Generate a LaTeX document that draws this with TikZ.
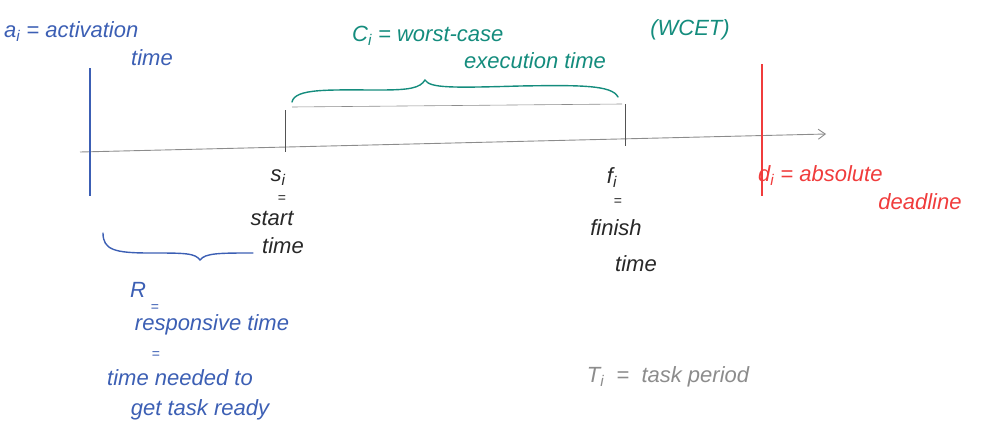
\documentclass[tikz,border=0pt]{standalone}
\usepackage{fontspec}
\setmainfont{Liberation Sans}
\usetikzlibrary{arrows.meta}
\definecolor{hblue}{RGB}{60,95,180}
\definecolor{hteal}{RGB}{20,140,125}
\definecolor{hred}{RGB}{240,60,60}
\definecolor{hgray}{RGB}{140,140,140}
\definecolor{hink}{RGB}{40,40,40}
\newcommand{\sbi}{\textsubscript{i}}
\tikzset{
  hand/.style={inner sep=0pt, font=\fontsize{22}{24}\selectfont\itshape},
  small/.style={font=\fontsize{14}{15}\selectfont},
  bluetxt/.style={hand, text=hblue},
  tealtxt/.style={hand, text=hteal},
  redtxt/.style={hand, text=hred},
  inktxt/.style={hand, text=hink},
  graytxt/.style={hand, text=hgray},
  axisline/.style={draw=hgray, line width=0.9pt},
  tickline/.style={draw=hink!80, line width=0.9pt},
}
\begin{document}
\begin{tikzpicture}[x=1pt,y=-1pt]
\useasboundingbox (0,0) rectangle (994,434);
% axis
\coordinate (axL) at (80,152);
\coordinate (axR) at (826,134);
\draw[axisline, -{Straight Barb[length=7pt,width=10pt]}] (axL) -- (axR);
% activation line (blue)
\coordinate (aTop) at (90,68);
\coordinate (aBot) at (90,196);
\draw[hblue, line width=1.2pt] (aTop) -- (aBot);
% deadline line (red)
\coordinate (dTop) at (762,64);
\coordinate (dBot) at (762,196);
\draw[hred, line width=1.2pt] (dTop) -- (dBot);
% start / finish ticks and bracket
\coordinate (sTop) at (285,110);
\coordinate (sBot) at (285,152);
\coordinate (fTop) at (625,104);
\coordinate (fBot) at (625,146);
\draw[tickline] (sTop) -- (sBot);
\draw[tickline] (fTop) -- (fBot);
\coordinate (bL) at (292,107);
\coordinate (bR) at (622,104);
\draw[hgray, line width=0.6pt] (bL) -- (bR);
% teal brace
\draw[hteal, line width=1.4pt, line cap=round]
  (292,102) .. controls (295,88) and (330,90) .. (380,90)
  .. controls (410,90) and (420,88) .. (425,80)
  .. controls (430,88) and (450,88) .. (520,86)
  .. controls (580,85) and (612,85) .. (618,97);
% blue brace
\draw[hblue, line width=1.4pt, line cap=round]
  (103,233) .. controls (103,250) and (115,253) .. (150,253)
  .. controls (185,253) and (195,253) .. (200,260)
  .. controls (205,253) and (220,253) .. (253,253);
% texts
\node[bluetxt, anchor=west] (atxt) at (4,32) {a\sbi\ = activation};
\node[bluetxt] (atime) at (152,58) {time};
\node[tealtxt, anchor=west] (ctxt) at (352,36) {C\sbi\ = worst-case};
\node[tealtxt] (cexe) at (535,61) {execution time};
\node[tealtxt] (wcet) at (690,30) {(WCET)};
\node[redtxt, anchor=west] (dtxt) at (758,176) {d\sbi\ = absolute};
\node[redtxt] (ddl) at (920,202) {deadline};
\node[inktxt] (si) at (278,178) {s\sbi};
\node[inktxt, small] (sieq) at (282,199) {=};
\node[inktxt] (sstart) at (272,218) {start};
\node[inktxt] (stime) at (283,246) {time};
\node[inktxt] (fi) at (612,178) {f\sbi};
\node[inktxt, small] (fieq) at (618,202) {=};
\node[inktxt] (ffin) at (616,228) {finish};
\node[inktxt] (ftime) at (636,264) {time};
\node[bluetxt] (R) at (138,290) {R};
\node[bluetxt, small] (Req) at (155,308) {=};
\node[bluetxt] (Rresp) at (212,325) {responsive time};
\node[bluetxt, small] (Req2) at (156,355) {=};
\node[bluetxt] (Rneed) at (180,378) {time needed to};
\node[bluetxt] (Rget) at (200,410) {get task ready};
\node[graytxt] (T) at (668,377) {T\sbi\ \ =\ \ task period};
\end{tikzpicture}
\end{document}
